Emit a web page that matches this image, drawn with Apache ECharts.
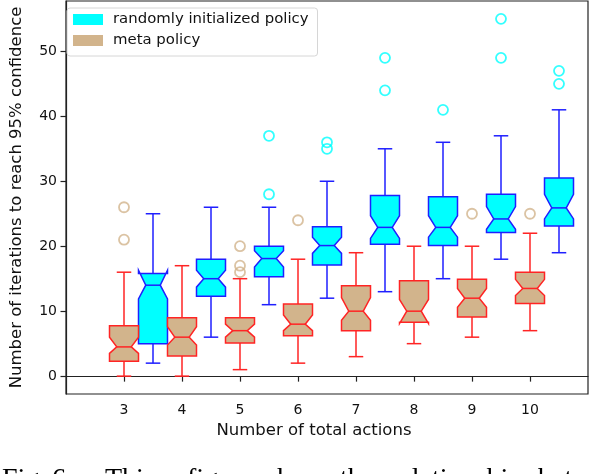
<!DOCTYPE html>
<html>
<head>
<meta charset="utf-8">
<script src="https://cdn.jsdelivr.net/npm/echarts@6/dist/echarts.min.js"></script>
<style>
html,body{margin:0;padding:0;background:#fff;overflow:hidden;}
#chart{width:590px;height:474px;}
</style>
</head>
<body>
<div id="chart"></div>
<script>
// ---- data ----
const categories = [3, 4, 5, 6, 7, 8, 9, 10];
const xTicks = [3, 4, 5, 6, 7, 8, 9, 10];
const yTicks = [0, 10, 20, 30, 40, 50];

// randomly initialized policy (drawn at category + 0.5)
const randWhiskLo = [2, 6, 11, 12, 13, 15, 18, 19];
const randQ1      = [5, 12.3, 15.3, 17.1, 20.3, 20.1, 22.1, 23.1];
const randNotchLo = [11.9, 13.7, 16.8, 18.9, 21.2, 21.4, 22.6, 24.2];
const randMedian  = [14, 15, 18.1, 20.1, 22.9, 22.9, 24.2, 25.9];
const randNotchHi = [16.3, 16.3, 19.3, 21.4, 24.7, 24.7, 26.1, 28.0];
const randQ3      = [15.8, 18, 20, 23, 27.8, 27.6, 28, 30.5];
const randWhiskHi = [25, 26, 26, 30, 35, 36, 37, 41];
const randOutliers = [[], [], [28, 37], [35, 36], [44, 49], [41], [49, 55], [45, 47]];

// meta policy (drawn at category)
const metaWhiskLo = [0, 0, 1, 2, 3, 5, 6, 7];
const metaQ1      = [2.3, 3.1, 5.1, 6.2, 7, 8.3, 9.1, 11.2];
const metaNotchLo = [3.5, 4.8, 6.0, 7.0, 8.6, 8.1, 10.6, 12.4];
const metaMedian  = [4.5, 6, 7, 8, 10, 10, 12, 13.5];
const metaNotchHi = [6.0, 7.6, 8.0, 9.4, 12.1, 11.8, 13.5, 14.9];
const metaQ3      = [7.75, 9, 9, 11.1, 13.9, 14.7, 14.9, 16];
const metaWhiskHi = [16, 17, 15, 18, 19, 20, 20, 22];
const metaOutliers = [[21, 26], [], [16, 17, 20], [24], [], [], [25], [25]];

const seriesNames = ['randomly initialized policy', 'meta policy'];
const captionWords = ['Fig.', '6:', 'This', 'figure', 'shows', 'the', 'relationship', 'between'];

// ---- styling ----
const BOX_WIDTH = 0.5;
const RAND_OFFSET = 0.5;
const captionX = [2, 52, 105, 187, 266, 340, 390, 538];

function boxData(offset, wlo, q1, nlo, med, nhi, q3, whi) {
  return categories.map((c, i) => [c + offset, wlo[i], q1[i], nlo[i], med[i], nhi[i], q3[i], whi[i]]);
}
function outlierData(offset, outs) {
  const res = [];
  categories.forEach((c, i) => outs[i].forEach(v => res.push([c + offset, v])));
  return res;
}

function makeRender(fill, edge) {
  return function (params, api) {
    const x = api.value(0);
    const cx = api.coord([x, 0])[0];
    const y = v => api.coord([x, v])[1];
    const hw = api.size([BOX_WIDTH, 0])[0] / 2;
    const nw = hw / 2;
    const wlo = api.value(1), q1 = api.value(2), nlo = api.value(3), med = api.value(4),
          nhi = api.value(5), q3 = api.value(6), whi = api.value(7);
    const lineStyle = { stroke: edge, lineWidth: 1.5, fill: null };
    return {
      type: 'group',
      children: [
        { type: 'polygon', shape: { points: [
            [cx - hw, y(q1)], [cx + hw, y(q1)], [cx + hw, y(nlo)], [cx + nw, y(med)],
            [cx + hw, y(nhi)], [cx + hw, y(q3)], [cx - hw, y(q3)], [cx - hw, y(nhi)],
            [cx - nw, y(med)], [cx - hw, y(nlo)] ] },
          style: { fill: fill, stroke: edge, lineWidth: 1.5, lineJoin: 'miter' } },
        { type: 'line', shape: { x1: cx, y1: y(q1), x2: cx, y2: y(wlo) }, style: lineStyle },
        { type: 'line', shape: { x1: cx, y1: y(q3), x2: cx, y2: y(whi) }, style: lineStyle },
        { type: 'line', shape: { x1: cx - nw, y1: y(wlo), x2: cx + nw, y2: y(wlo) }, style: lineStyle },
        { type: 'line', shape: { x1: cx - nw, y1: y(whi), x2: cx + nw, y2: y(whi) }, style: lineStyle },
        { type: 'line', shape: { x1: cx - nw, y1: y(med), x2: cx + nw, y2: y(med) }, style: lineStyle }
      ]
    };
  };
}

const chart = echarts.init(document.getElementById('chart'), null, { renderer: 'canvas' });
const tickFont = { fontFamily: 'DejaVu Sans', fontSize: 14, color: '#111' };

chart.setOption({
  animation: false,
  backgroundColor: '#fff',
  grid: { left: 60, right: 2, top: 1, bottom: 80, show: true, borderColor: '#222', borderWidth: 1.2, backgroundColor: 'transparent' },
  legend: {
    data: [
      { name: seriesNames[0], icon: 'rect', itemStyle: { color: '#00ffff' } },
      { name: seriesNames[1], icon: 'rect', itemStyle: { color: '#d2b48c' } }
    ],
    orient: 'vertical', left: 67, top: 8,
    itemWidth: 30, itemHeight: 11, itemGap: 6,
    padding: [4, 9, 8, 6],
    borderColor: '#d6d6d6', borderWidth: 1, borderRadius: 3,
    backgroundColor: 'rgba(255,255,255,0.8)',
    selectedMode: false,
    textStyle: { fontFamily: 'DejaVu Sans', fontSize: 14.9, color: '#111', padding: [0, 0, 0, 5] }
  },
  xAxis: {
    type: 'value', min: 2, max: 11,
    name: 'Number of total actions', nameLocation: 'middle', nameGap: 28,
    nameTextStyle: { fontFamily: 'DejaVu Sans', fontSize: 16.5, color: '#111', padding: [0, 26, 0, 0] },
    axisLine: { show: true, lineStyle: { color: '#222', width: 1.2 } },
    axisTick: { show: true, length: 5.5, customValues: xTicks, lineStyle: { color: '#222', width: 1.2 } },
    axisLabel: Object.assign({ margin: 9, customValues: xTicks }, tickFont),
    splitLine: { show: false }
  },
  yAxis: {
    type: 'value', min: -2.75, max: 57.75,
    name: 'Number of iterations to reach 95% confidence', nameLocation: 'middle', nameGap: 41,
    nameTextStyle: { fontFamily: 'DejaVu Sans', fontSize: 16.5, color: '#111' },
    axisLine: { show: true, lineStyle: { color: '#222', width: 1.2 } },
    axisTick: { show: true, length: 5.5, customValues: yTicks, lineStyle: { color: '#222', width: 1.2 } },
    axisLabel: Object.assign({ margin: 9, customValues: yTicks }, tickFont),
    splitLine: { show: false }
  },
  series: [
    {
      name: seriesNames[0], type: 'custom', renderItem: makeRender('#00ffff', '#1f1fff'),
      itemStyle: { color: '#00ffff' },
      data: boxData(RAND_OFFSET, randWhiskLo, randQ1, randNotchLo, randMedian, randNotchHi, randQ3, randWhiskHi),
      encode: { x: 0, y: [1, 7] }, clip: false, z: 3
    },
    {
      name: seriesNames[1], type: 'custom', renderItem: makeRender('#d2b48c', '#ff2424'),
      itemStyle: { color: '#d2b48c' },
      data: boxData(0, metaWhiskLo, metaQ1, metaNotchLo, metaMedian, metaNotchHi, metaQ3, metaWhiskHi),
      encode: { x: 0, y: [1, 7] }, clip: false, z: 3
    },
    {
      name: 'random outliers', type: 'scatter', symbol: 'circle', symbolSize: 10,
      itemStyle: { color: 'transparent', borderColor: '#00ffff', borderWidth: 1.8 },
      data: outlierData(RAND_OFFSET, randOutliers), z: 4
    },
    {
      name: 'meta outliers', type: 'scatter', symbol: 'circle', symbolSize: 10,
      itemStyle: { color: 'transparent', borderColor: '#d2b48c', borderWidth: 1.8 },
      data: outlierData(0, metaOutliers), z: 4
    }
  ],
  graphic: captionWords.map((w, i) => ({
    type: 'text', left: captionX[i], top: 466, silent: true,
    style: { text: w, fontFamily: 'Liberation Serif', fontSize: 28, fill: '#000' }
  }))
});
</script>
</body>
</html>
